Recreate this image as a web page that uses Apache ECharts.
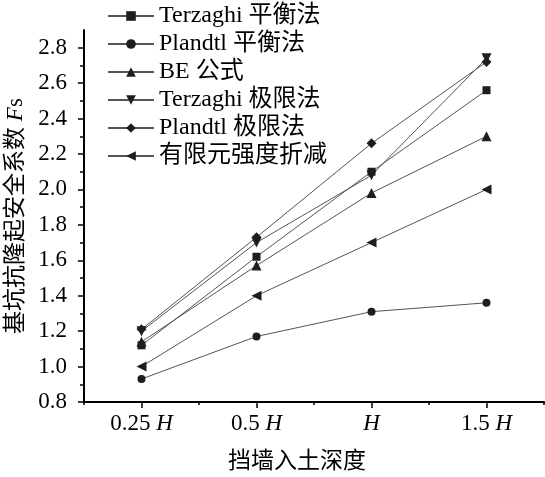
<!DOCTYPE html>
<html>
<head>
<meta charset="utf-8">
<script src="https://cdn.jsdelivr.net/npm/echarts@6/dist/echarts.min.js"></script>
<style>
html,body{margin:0;padding:0;background:#fff;}
#chart{width:545px;height:477px;}
</style>
</head>
<body>
<div id="chart"></div>
<script>
const categories = ['0.25 H', '0.5 H', 'H', '1.5 H'];
const seriesNames = ['Terzaghi 平衡法', 'Plandtl 平衡法', 'BE 公式', 'Terzaghi 极限法', 'Plandtl 极限法', '有限元强度折减'];
const terzaghiBalance = [1.12, 1.62, 2.10, 2.56];
const plandtlBalance = [0.93, 1.17, 1.31, 1.36];
const beFormula = [1.14, 1.57, 1.98, 2.30];
const terzaghiLimit = [1.20, 1.70, 2.08, 2.74];
const plandtlLimit = [1.21, 1.73, 2.26, 2.72];
const femReduction = [1.00, 1.40, 1.70, 2.00];
const yMajorTicks = [0.8, 1.0, 1.2, 1.4, 1.6, 1.8, 2.0, 2.2, 2.4, 2.6, 2.8];
const yMinorTicks = [0.9, 1.1, 1.3, 1.5, 1.7, 1.9, 2.1, 2.3, 2.5, 2.7];
const yMin = 0.8, yMax = 2.9;
const xTitle = '挡墙入土深度';
const yTitle = '基坑抗隆起安全系数 ';

const FONT = "'Liberation Serif', 'Noto Sans CJK SC', serif";
const seriesData = [terzaghiBalance, plandtlBalance, beFormula, terzaghiLimit, plandtlLimit, femReduction];
const symbols = ['rect', 'circle', 'triangle', 'triangle', 'diamond', 'triangle'];
const rotations = [0, 0, 0, 180, 0, 90];
const sizes = [8, 8, 10, 10, 10, 10];

const chart = echarts.init(document.getElementById('chart'), null, {renderer: 'canvas'});
const axisLineStyle = {color: '#000', width: 2};
const option = {
  animation: false,
  backgroundColor: '#fff',
  textStyle: {fontFamily: FONT, color: '#000'},
  grid: {left: 84, right: 1, top: 30, bottom: 75, containLabel: false, outerBoundsMode: 'none'},
  legend: {
    orient: 'vertical',
    left: 107,
    top: 4,
    padding: 0,
    itemWidth: 46,
    itemHeight: 12,
    itemGap: 4,
    data: seriesNames,
    textStyle: {fontFamily: FONT, fontSize: 24, color: '#000', lineHeight: 23}
  },
  xAxis: [{
    type: 'category',
    data: categories,
    position: 'bottom',
    boundaryGap: true,
    axisLine: {show: true, onZero: false, lineStyle: axisLineStyle},
    axisTick: {show: true, alignWithLabel: true, interval: 0, length: 6, lineStyle: {color: '#000', width: 1.5}},
    axisLabel: {
      interval: 0,
      margin: 10,
      fontFamily: FONT, fontSize: 23, color: '#000',
      formatter: v => v.replace('H', '{i|H}'),
      rich: {i: {fontFamily: FONT, fontSize: 23, fontStyle: 'italic', color: '#000'}}
    },
    splitLine: {show: false},
    name: xTitle,
    nameLocation: 'middle',
    nameGap: 48,
    nameTextStyle: {fontFamily: FONT, fontSize: 23, color: '#000', padding: [0, 34, 0, 0]}
  }, {
    type: 'category',
    data: categories,
    position: 'top',
    offset: -372,
    boundaryGap: true,
    axisLine: {show: false, onZero: false},
    axisTick: {show: true, inside: true, interval: 0, length: 3, lineStyle: {color: '#000', width: 1.5}},
    axisLabel: {show: false},
    splitLine: {show: false}
  }],
  yAxis: [{
    type: 'value',
    min: yMin, max: yMax, interval: 0.2,
    position: 'left',
    axisLine: {show: true, onZero: false, lineStyle: axisLineStyle},
    axisTick: {show: true, length: 6, customValues: yMajorTicks, lineStyle: {color: '#000', width: 1.5}},
    axisLabel: {
      margin: 17, fontFamily: FONT, fontSize: 23, color: '#000',
      customValues: yMajorTicks,
      formatter: v => v.toFixed(1)
    },
    splitLine: {show: false},
    name: yTitle + '{i|F}s',
    nameLocation: 'middle',
    nameGap: 45,
    nameRotate: 90,
    nameTextStyle: {fontFamily: FONT, fontSize: 23, color: '#000',
      rich: {i: {fontFamily: FONT, fontSize: 23, fontStyle: 'italic', color: '#000'}}}
  }, {
    type: 'value',
    min: yMin, max: yMax, interval: 0.1,
    position: 'right',
    offset: -460,
    axisLine: {show: false, onZero: false},
    axisTick: {show: true, inside: true, length: 4, customValues: yMinorTicks, lineStyle: {color: '#000', width: 1.5}},
    axisLabel: {show: false},
    splitLine: {show: false}
  }],
  series: seriesNames.map((name, i) => ({
    name: name,
    type: 'line',
    xAxisIndex: 0,
    yAxisIndex: 0,
    data: seriesData[i],
    symbol: symbols[i],
    symbolRotate: rotations[i],
    symbolSize: sizes[i],
    showAllSymbol: true,
    lineStyle: {color: '#555', width: 1},
    itemStyle: {color: '#1e1e1e', borderWidth: 0},
    emphasis: {disabled: true}
  }))
};
chart.setOption(option);
</script>
</body>
</html>
